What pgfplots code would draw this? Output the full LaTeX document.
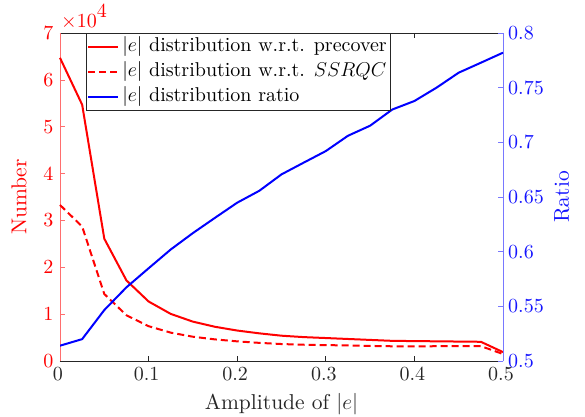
\RequirePackage{fix-cm}
\documentclass[border=0pt]{standalone}
\usepackage{fontspec}
\setmainfont{lmroman10-regular.otf}[ItalicFont=lmroman10-italic.otf, BoldFont=lmroman10-bold.otf]
\usepackage{pgfplots}
\pgfplotsset{compat=1.18}
\usepackage{pgfplotstable}
\definecolor{lred}{RGB}{255,110,110}
\definecolor{lblue}{RGB}{120,120,255}
\definecolor{tblue}{RGB}{20,20,255}
\definecolor{axgray}{RGB}{38,38,38}
\pgfplotstableread{
x solid dashed
0     6.47  3.33
0.025 5.47  2.87
0.05  2.61  1.43
0.075 1.72  0.976
0.1   1.27  0.743
0.125 1.005 0.605
0.15  0.84  0.518
0.175 0.73  0.461
0.2   0.65  0.419
0.225 0.59  0.387
0.25  0.54  0.362
0.275 0.51  0.347
0.3   0.49  0.339
0.325 0.47  0.332
0.35  0.45  0.322
0.375 0.43  0.314
0.4   0.425 0.314
0.425 0.42  0.315
0.45  0.415 0.317
0.475 0.41  0.317
0.5   0.19  0.149
}\counts
\pgfplotstableread{
x ratio
0     0.514
0.025 0.520
0.05  0.5466
0.075 0.5674
0.1   0.5848
0.125 0.602
0.15  0.617
0.175 0.631
0.2   0.6448
0.225 0.6557
0.25  0.6707
0.275 0.6814
0.3   0.692
0.325 0.706
0.35  0.7152
0.375 0.730
0.4   0.7378
0.425 0.750
0.45  0.7637
0.475 0.7728
0.5   0.782
}\ratio
\newcommand{\tfont}{\fontsize{20bp}{24bp}\selectfont}
\newcommand{\gfont}{\fontsize{20bp}{24bp}\selectfont}
\newcommand{\lfont}{\fontsize{21.5bp}{26bp}\selectfont}
\begin{document}
\begin{tikzpicture}
\useasboundingbox (-60bp,-56bp) rectangle (525bp,361bp);
\begin{axis}[
  scale only axis, width=443bp, height=328bp,
  xmin=0, xmax=0.5, ymin=0, ymax=7,
  clip=false,
  /pgf/number format/assume math mode=true,
  axis x line*=box, axis y line*=left,
  xtick={0,0.1,0.2,0.3,0.4,0.5},
  xticklabels={0,0.1,0.2,0.3,0.4,0.5},
  ytick={0,1,2,3,4,5,6,7},
  yticklabels={0,1,2,3,4,5,6,7},
  tick align=inside, major tick length=5bp,
  xtick pos=both,
  x axis line style={axgray, line width=0.6bp},
  y axis line style={lred, line width=0.6bp},
  xtick style={axgray, line width=0.6bp},
  ytick style={lred, line width=0.6bp},
  xticklabel style={axgray, font=\tfont, inner sep=1bp, yshift=-5bp, xshift=-2bp},
  yticklabel style={red, font=\tfont, xshift=-3bp},
  xlabel={Amplitude of $|e|$},
  ylabel={Number},
  xlabel style={axgray, font=\lfont},
  ylabel style={red, font=\lfont},
  xlabel shift=8bp,
  ylabel shift=10bp,
]
\addplot[red, line width=2bp] table[x=x, y=solid] {\counts};
\addplot[red, line width=2bp, dash pattern=on 7bp off 4bp] table[x=x, y=dashed] {\counts};
\node[anchor=base west, red, font=\tfont, inner sep=0pt] at (rel axis cs:0,1) [xshift=1bp, yshift=6bp] {$\times$10\raisebox{10bp}{4}};
\end{axis}
\begin{axis}[
  scale only axis, width=443bp, height=328bp,
  xmin=0, xmax=0.5, ymin=0.5, ymax=0.8,
  /pgf/number format/assume math mode=true,
  axis x line=none, axis y line*=right,
  ytick={0.5,0.55,0.6,0.65,0.7,0.75,0.8},
  yticklabels={0.5,0.55,0.6,0.65,0.7,0.75,0.8},
  tick align=inside, major tick length=5bp,
  y axis line style={lblue, line width=0.6bp},
  ytick style={lblue, line width=0.6bp},
  yticklabel style={tblue, font=\tfont, inner sep=1bp, xshift=4bp},
  ylabel={Ratio},
  ylabel style={tblue, font=\lfont},
  ylabel shift=6bp,
  legend cell align=left,
  legend style={at={(rel axis cs:0.0587,1)}, anchor=north west, font=\gfont,
    draw=axgray, line width=0.6bp, inner sep=1bp, row sep=0bp,
    nodes={text height=14bp, text depth=5bp, inner sep=3bp}},
  legend image code/.code={\draw[#1] (0bp,0bp) -- (30bp,0bp);},
]
\addlegendimage{red, line width=2bp}
\addlegendentry{$|e|$ distribution w.r.t. precover}
\addlegendimage{red, line width=2bp, dash pattern=on 7bp off 4bp}
\addlegendentry{$|e|$ distribution w.r.t. $SSRQC$}
\addplot[blue, line width=2bp] table[x=x, y=ratio] {\ratio};
\addlegendentry{$|e|$ distribution ratio}
\end{axis}
\end{tikzpicture}
\end{document}
